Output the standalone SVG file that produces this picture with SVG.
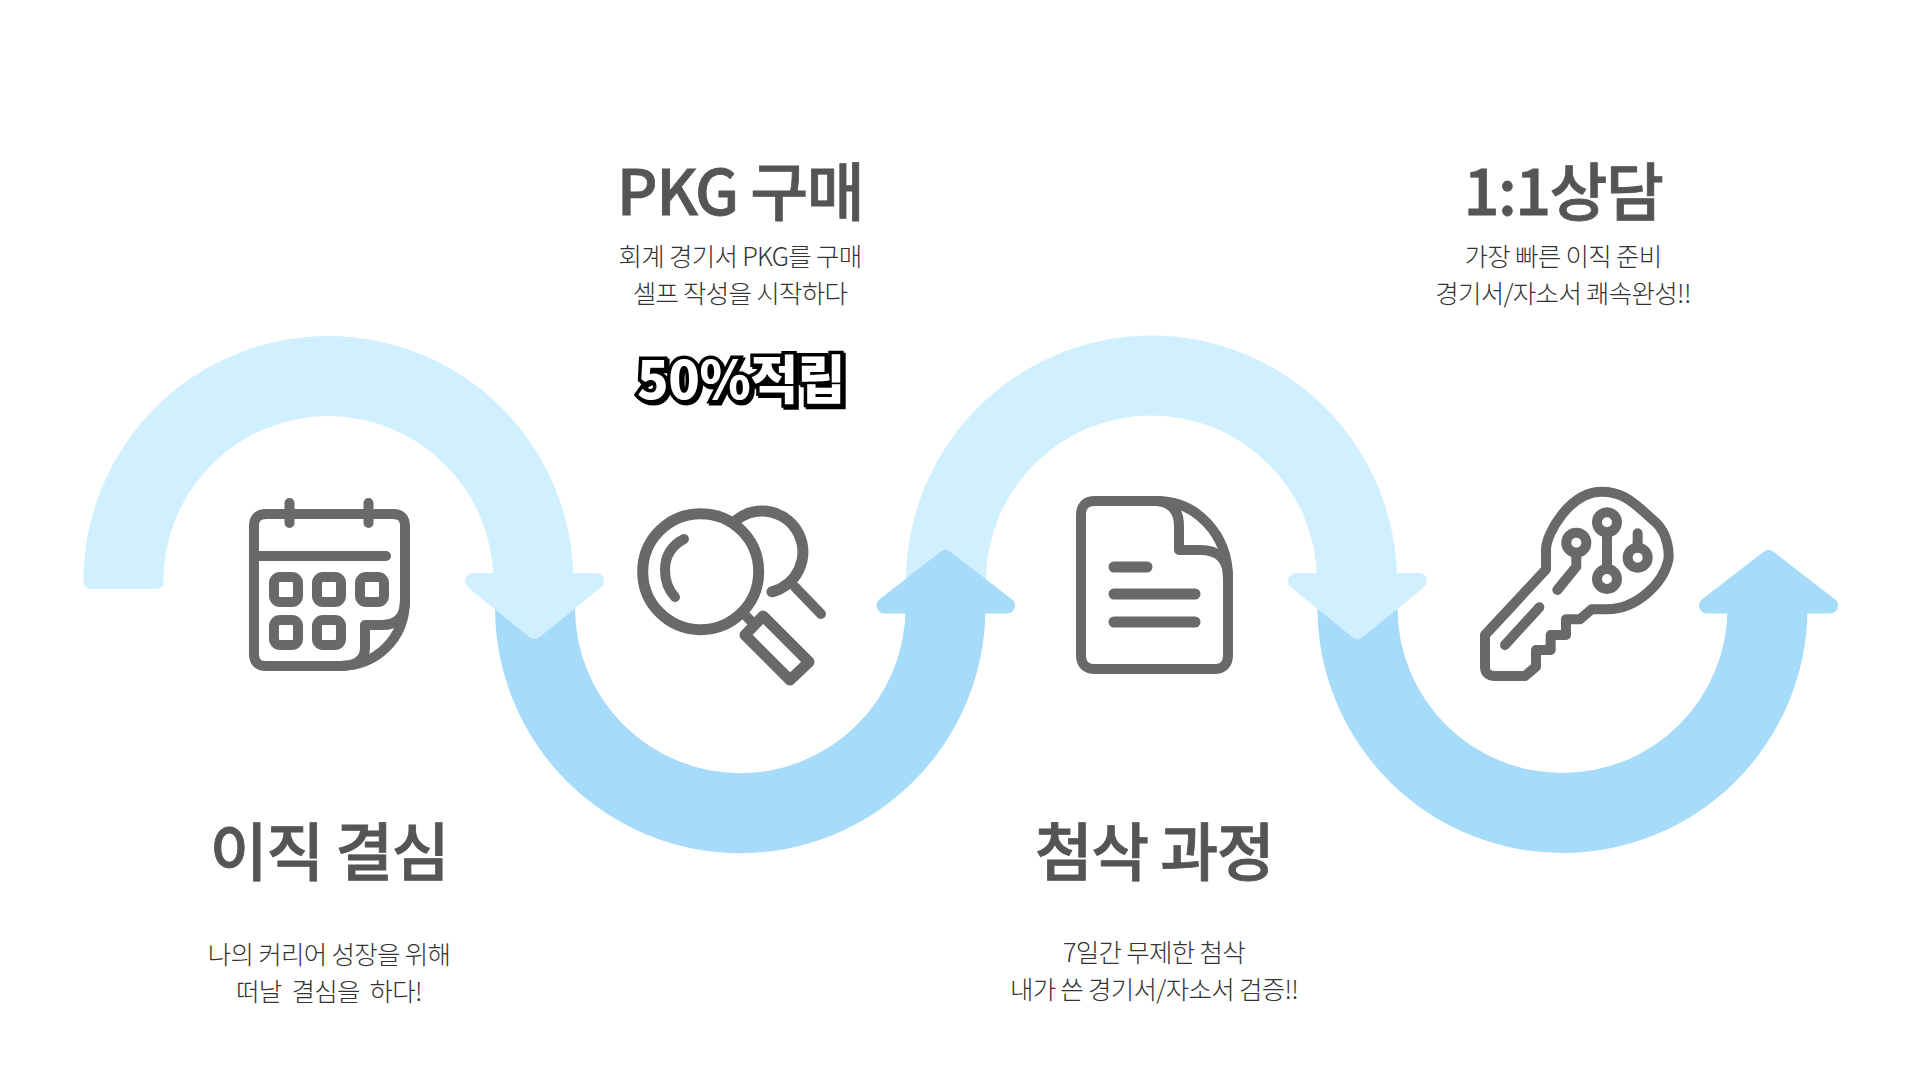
<svg xmlns="http://www.w3.org/2000/svg" width="1920" height="1080" viewBox="0 0 1920 1080">
<style>
text{font-family:"Noto Sans CJK KR","Noto Sans",sans-serif;text-anchor:middle;white-space:pre}
.t{font-size:63px;font-weight:500;fill:#555;letter-spacing:-1.5px;stroke:#555;stroke-width:.8px}
.b{font-size:25.500px;font-weight:300;fill:#333;letter-spacing:-.7px}
.i{fill:none;stroke:#696969;stroke-width:10;stroke-linecap:round;stroke-linejoin:round}
.l{fill:#d0efff}.d{fill:#a6dbf9}
.hl{fill:#d0efff;stroke:#d0efff;stroke-width:16;stroke-linejoin:round}
.hd{fill:#a6dbf9;stroke:#a6dbf9;stroke-width:16;stroke-linejoin:round}
.w{font-size:52px;font-weight:900;fill:#fff;stroke:#000;stroke-width:7px;paint-order:stroke;stroke-linejoin:miter;letter-spacing:-.5px}
</style>
<defs><filter id="sh" x="-10%" y="-20%" width="120%" height="140%"><feDropShadow dx="2" dy="2" stdDeviation="0" flood-color="#000"/></filter></defs>
<rect width="1920" height="1080" fill="#fff"/>
<g id="connectors">
<path class="d" d="M495 608A245 245 0 0 0 985.500 608H905.500A165 165 0 0 1 575 608Z"/>
<path class="l" d="M83.400 581A245 245 0 0 1 573.400 581V600H493.400V581A165 165 0 0 0 163.400 581Q163.400 589 155.400 589H91.400Q83.400 589 83.400 581Z"/>
<polygon class="hl" points="473,581 596,581 534.500,631"/>
<path class="d" d="M1317.500 608A245 245 0 0 0 1807.500 608H1727.500A165 165 0 0 1 1397.500 608Z"/>
<path class="l" d="M906 581A245 245 0 0 1 1397 581V600H1317V581A165 165 0 0 0 986 581Q986 589 978 589H914Q906 589 906 581Z"/>
<polygon class="hl" points="1296,581 1419,581 1357.500,631"/>
<polygon class="hd" points="884.500,605.500 1007,605.500 945.500,558"/>
<polygon class="hd" points="1707,605.500 1830,605.500 1768.500,558"/>
</g>
<g id="node-decision">
<g class="i">
<path d="M254 654V526Q254 514 266 514H393Q405 514 405 526V600C405 640 375 666 340 666H266Q254 666 254 654Z"/>
<path d="M289.500 503V523M368.500 503V523M254 556H386"/>
<rect x="274" y="577" width="24" height="25" rx="6"/><rect x="317" y="577" width="24" height="25" rx="6"/><rect x="360" y="577" width="24" height="25" rx="6"/>
<rect x="274" y="620" width="24" height="25" rx="6"/><rect x="317" y="620" width="24" height="25" rx="6"/>
<path d="M405 600Q405 625 382 625H365V648Q365 666 340 666"/>
</g>
<text class="t" x="329" y="875">이직 결심</text>
<text class="b" x="329" y="964">나의 커리어 성장을 위해</text>
<text class="b" x="329" y="1001">떠날  결심을  하다!</text>
</g>
<g id="node-pkg">
<text class="t" x="740" y="215">PKG 구매</text>
<text class="b" x="740" y="266">회계 경기서 PKG를 구매</text>
<text class="b" x="740" y="303">셀프 작성을 시작하다</text>
<text class="w" x="741" y="399" filter="url(#sh)">50%적립</text>
<g class="i">
<circle cx="700.700" cy="571.700" r="58" stroke-width="11"/>
<path d="M684 539Q665 549 665 570Q665 586 675 597"/>
<path d="M737 519.500A41 41 0 1 1 772 591.800" stroke-width="11"/>
<path d="M795 587L821 614M745 615L752 622" />
<path d="M763 616L809 662L790 680L745 635Z" stroke-width="11"/>
</g>
</g>
<g id="node-trial">
<g class="i">
<path d="M1081 515Q1081 501 1095 501H1157C1197 501 1228 535 1228 578V655Q1228 669 1214 669H1095Q1081 669 1081 655Z"/>
<path d="M1157 501Q1179 503 1179 526V550H1200Q1228 550 1228 578"/>
<path d="M1114 567H1147M1114 594H1195M1114 622H1195" stroke-width="11"/>
</g>
<text class="t" x="1154" y="875">첨삭 과정</text>
<text class="b" x="1154" y="962">7일간 무제한 첨삭</text>
<text class="b" x="1154" y="999">내가 쓴 경기서/자소서 검증!!</text>
</g>
<g id="node-consult">
<text class="t" x="1563" y="215">1:1상담</text>
<text class="b" x="1563" y="266">가장 빠른 이직 준비</text>
<text class="b" x="1563" y="303">경기서/자소서 쾌속완성!!</text>
<g class="i" transform="translate(1460 470) scale(.3333)" style="stroke-width:30">
<path d="M75 495L258 298V240C258 190 330 65 425 65C480 65 510 90 540 115L590 160C625 195 628 250 625 270C610 340 530 418 440 418H395L360 448H318V495H272V540H228V590L195 618H105Q75 618 75 590Z"/>
<path d="M135 525L238 412M441 187V297M533 190V233M349 248V290L292 360"/>
<circle cx="349" cy="218" r="30"/><circle cx="441" cy="157" r="30"/><circle cx="441" cy="327" r="30"/><circle cx="533" cy="263" r="30"/>
</g>
</g>
</svg>
